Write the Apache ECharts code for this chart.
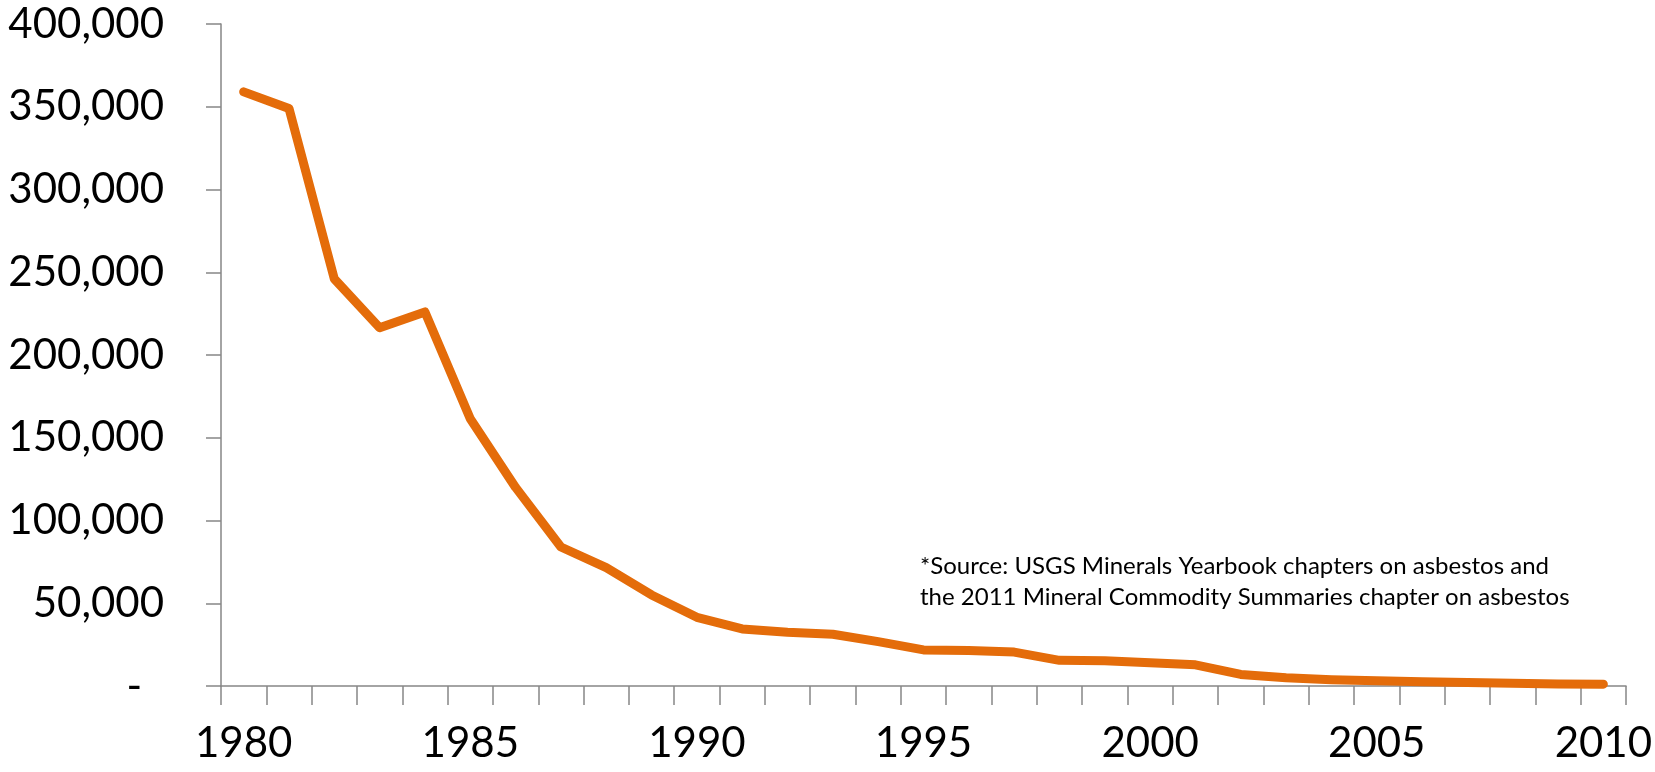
<!DOCTYPE html>
<html>
<head>
<meta charset="utf-8">
<script src="https://cdn.jsdelivr.net/npm/echarts@6/dist/echarts.min.js"></script>
<style>
html,body{margin:0;padding:0;background:#fff;}
#c{width:1655px;height:772px;}
</style>
</head>
<body>
<div id="c"></div>
<script>
const years = ['1980','1981','1982','1983','1984','1985','1986','1987','1988','1989','1990','1991','1992','1993','1994','1995','1996','1997','1998','1999','2000','2001','2002','2003','2004','2005','2006','2007','2008','2009','2010'];
const consumption = [359000,349000,246000,216500,226000,161500,120000,84000,71500,55000,41500,34500,32500,31300,26800,21800,21500,20500,15500,15300,14000,12800,7000,5000,3800,3200,2600,2100,1700,1200,1100];
const sourceLines = ['*Source: USGS Minerals Yearbook chapters on asbestos and','the 2011 Mineral Commodity Summaries chapter on asbestos'];

const FONT = 'Lato';
const chart = echarts.init(document.getElementById('c'));
chart.setOption({
  animation: false,
  backgroundColor: '#ffffff',
  grid: {left: 221, right: 24, top: 24, bottom: 86, containLabel: false},
  xAxis: {
    type: 'category',
    data: years,
    boundaryGap: true,
    axisLine: {lineStyle: {color: '#868686', width: 1.5}},
    axisTick: {show: true, interval: 0, length: 19, lineStyle: {color: '#868686', width: 1.5}},
    axisLabel: {interval: 4, margin: 36, fontFamily: FONT, fontSize: 42, color: '#000'},
    splitLine: {show: false}
  },
  yAxis: {
    type: 'value',
    min: 0, max: 400000, interval: 50000,
    axisLine: {show: true, lineStyle: {color: '#868686', width: 1.5}},
    axisTick: {show: true, length: 15, lineStyle: {color: '#868686', width: 1.5}},
    splitLine: {show: false},
    axisLabel: {
      margin: 57, fontFamily: FONT, fontSize: 42, color: '#000',
      formatter: function (v) { return v === 0 ? '{d|-}' : v.toLocaleString('en-US'); },
      rich: {d: {fontFamily: FONT, fontSize: 42, color: '#000', padding: [0, 22, 0, 0]}}
    }
  },
  series: [{
    type: 'line',
    data: consumption,
    symbol: 'none',
    lineStyle: {color: '#E46C0A', width: 9, cap: 'round', join: 'round'}
  }],
  graphic: [{
    type: 'text',
    left: 920, top: 551,
    style: {text: sourceLines.join('\n'), fontFamily: FONT, fontSize: 24, lineHeight: 31, fill: '#000'}
  }]
});
</script>
</body>
</html>
